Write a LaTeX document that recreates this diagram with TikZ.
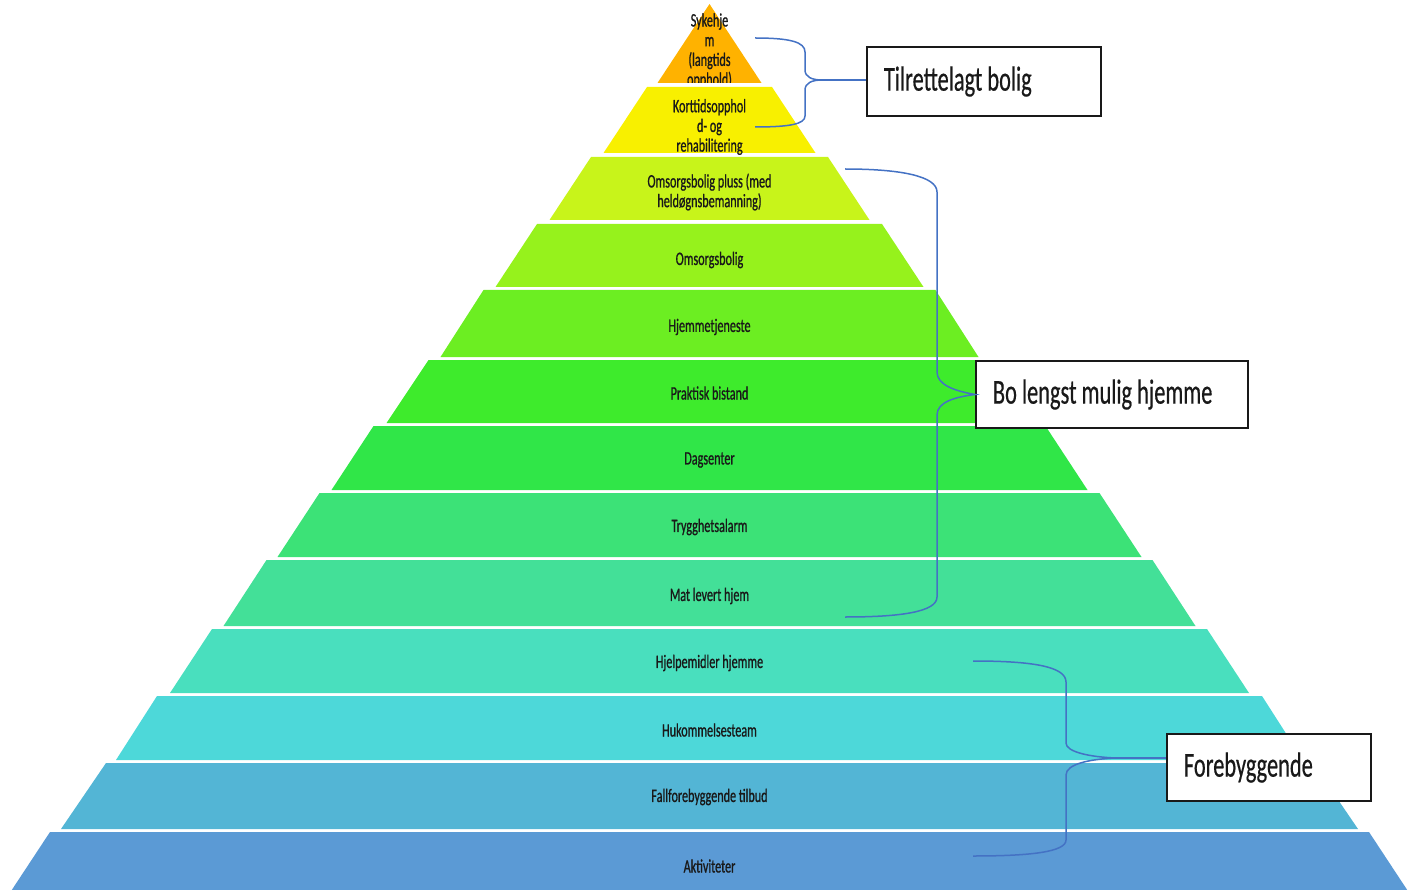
\documentclass[tikz,border=0pt]{standalone}
\usepackage{fontspec}
\newfontfamily\cf[FakeStretch=0.64,FakeBold=0.4]{Carlito}
\newfontfamily\cfs[FakeStretch=0.64,FakeBold=0.8]{Carlito}
\definecolor{c1}{HTML}{FFB200}
\definecolor{c2}{HTML}{F8F000}
\definecolor{c3}{HTML}{C8F41A}
\definecolor{c4}{HTML}{96F21C}
\definecolor{c5}{HTML}{6CEE22}
\definecolor{c6}{HTML}{3EEB2C}
\definecolor{c7}{HTML}{30E648}
\definecolor{c8}{HTML}{3CE277}
\definecolor{c9}{HTML}{43E098}
\definecolor{c10}{HTML}{49DFBE}
\definecolor{c11}{HTML}{4DD8D9}
\definecolor{c12}{HTML}{53B5D5}
\definecolor{c13}{HTML}{5B9AD5}
\definecolor{bracecol}{HTML}{4472C4}
\newcommand\pyrlayer[5]{\fill[#1] (709.5-#3,#2) -- (709.5+#3,#2) -- (709.5+#5,#4) -- (709.5-#5,#4) -- cycle;}
\tikzset{
  lt/.style={inner sep=0pt, align=flush center, text=black!90, font=\cfs\fontsize{19}{19.7}\selectfont},
  box/.style={draw=black!90, line width=1.8pt, fill=white, inner xsep=17pt, inner ysep=0pt, anchor=west, align=flush left, text=black!90, font=\cf\fontsize{35}{40}\selectfont},
  brace/.style={draw=bracecol, line width=1.5pt}
}
\begin{document}
\begin{tikzpicture}[x=1pt,y=-1pt]
\useasboundingbox (0,0) rectangle (1418,890);
\clip (0,0) rectangle (1418,890);
% pyramid layers
\fill[c1] (709.5,4) -- (761.5,83) -- (657.5,83) -- cycle;
\pyrlayer{c2}{87}{62.5}{153}{106}
\pyrlayer{c3}{157}{118.5}{220}{160}
\pyrlayer{c4}{224}{172.5}{287}{214}
\pyrlayer{c5}{290}{226}{357}{269}
\pyrlayer{c6}{360}{281}{423}{323}
\pyrlayer{c7}{426}{336}{490}{378}
\pyrlayer{c8}{493}{390}{557}{432}
\pyrlayer{c9}{560}{443}{626}{486}
\pyrlayer{c10}{629}{497.5}{693}{539.5}
\pyrlayer{c11}{696}{552.5}{760}{593.5}
\pyrlayer{c12}{763}{603.5}{829}{648.5}
\pyrlayer{c13}{832}{659.5}{898}{703}
% layer texts
\begin{scope}
\clip (600,0) rectangle (820,83);
\node[lt] (L1) at (709.5,51) {Sykehje\\m\\(langtids\\opphold)};
\end{scope}
\node[lt] (L2) at (709.5,127) {Korttidsopphol\\d- og\\rehabilitering};
\node[lt] (L3) at (709.5,192) {Omsorgsbolig pluss (med\\heldøgnsbemanning)};
\node[lt] (L4) at (709.5,260) {Omsorgsbolig};
\node[lt] (L5) at (709.5,327) {Hjemmetjeneste};
\node[lt] (L6) at (709.5,393) {Praktisk bistand};
\node[lt] (L7) at (709.5,460) {Dagsenter};
\node[lt] (L8) at (709.5,527) {Trygghetsalarm};
\node[lt] (L9) at (709.5,596) {Mat levert hjem};
\node[lt] (L10) at (709.5,663) {Hjelpemidler hjemme};
\node[lt] (L11) at (709.5,730) {Hukommelsesteam};
\node[lt] (L12) at (709.5,797) {Fallforebyggende tilbud};
\node[lt] (L13) at (709.5,866) {Aktiviteter};
% label boxes
\node[box, text width=200pt, minimum height=69pt] (B1) at (866,81.5) {Tilrettelagt bolig};
\node[box, text width=238pt, minimum height=67pt] (B2) at (975,394.5) {Bo lengst mulig hjemme};
\node[box, text width=170pt, minimum height=67pt] (B3) at (1166,767.5) {Forebyggende};
% braces
\coordinate (t1) at (755,38);
\coordinate (m1) at (822,80);
\coordinate (e1) at (755,127);
\draw[brace] (t1) .. controls (790,38) and (805,42) .. (805,52) -- (805,70) .. controls (805,77) and (812,80) .. (m1)
  .. controls (812,80) and (805,83) .. (805,90) -- (805,116) .. controls (805,124) and (790,127) .. (e1);
\draw[brace] (m1) -- (m1 -| B1.west);
\coordinate (t2) at (845,169);
\coordinate (m2) at (B2.west);
\coordinate (e2) at (845,617);
\draw[brace] (t2) .. controls (900,169) and (937,176) .. (937,192) -- (937,372) .. controls (937,385) and (955,391) .. (m2)
  .. controls (955,397) and (937,402) .. (937,415) -- (937,597) .. controls (937,612) and (900,617) .. (e2);
\coordinate (t3) at (973,661);
\coordinate (m3) at (1116,758);
\coordinate (e3) at (973,856);
\draw[brace] (t3) .. controls (1030,661) and (1066,666) .. (1066,682) -- (1066,743) .. controls (1066,752) and (1090,757) .. (m3)
  .. controls (1090,759) and (1066,764) .. (1066,775) -- (1066,840) .. controls (1066,852) and (1030,856) .. (e3);
\draw[brace] (m3) -- (m3 -| B3.west);
\end{tikzpicture}
\end{document}
